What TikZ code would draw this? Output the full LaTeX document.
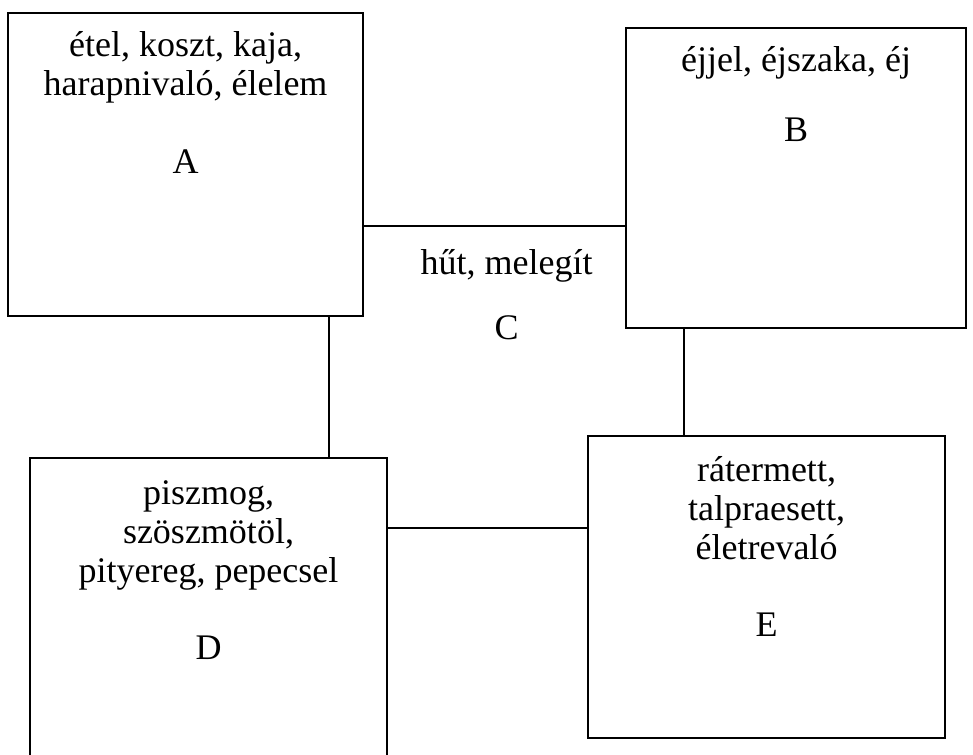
\documentclass[tikz,border=0pt]{standalone}
\usepackage{fontspec}
\setmainfont{Liberation Serif}
\usetikzlibrary{fit}

\begin{document}
\begin{tikzpicture}
  [ x=0.75pt, y=-0.75pt,
    box/.style={draw, fill=white, line width=1.1pt, inner sep=0pt},
    boxtext/.style={anchor=base, align=center, inner sep=0pt,
      font=\fontsize{27pt}{29.25pt}\selectfont}, ]

  \useasboundingbox (0,0) rectangle (973,754);

  % C lies under the others
  \node[box, fit={(329,226) (684,528)}] (C) {};
  \node[box, fit={(8,13) (363,316)}] (A) {};
  \node[box, fit={(626,28) (966,328)}] (B) {};
  \node[box, fit={(30,458) (387,780)}] (D) {};
  \node[box, fit={(588,436) (945,738)}] (E) {};

  % base of a text node is the baseline of its last line
  \node[boxtext] (A text) at (A.north |- 0,95) {étel, koszt, kaja,\\harapnivaló, élelem};
  \node[boxtext] (A name) at (A.north |- 0,173) {A};

  \node[boxtext] (B text) at (B.north |- 0,71) {éjjel, éjszaka, éj};
  \node[boxtext] (B name) at (B.north |- 0,141) {B};

  \node[boxtext] (C text) at (C.north |- 0,274) {hűt, melegít};
  \node[boxtext] (C name) at (C.north |- 0,339) {C};

  \node[boxtext] (D text) at (D.north |- 0,582) {piszmog,\\szöszmötöl,\\pityereg, pepecsel};
  \node[boxtext] (D name) at (D.north |- 0,659) {D};

  \node[boxtext] (E text) at (E.north |- 0,559) {rátermett,\\talpraesett,\\életrevaló};
  \node[boxtext] (E name) at (E.north |- 0,636) {E};

\end{tikzpicture}
\end{document}
